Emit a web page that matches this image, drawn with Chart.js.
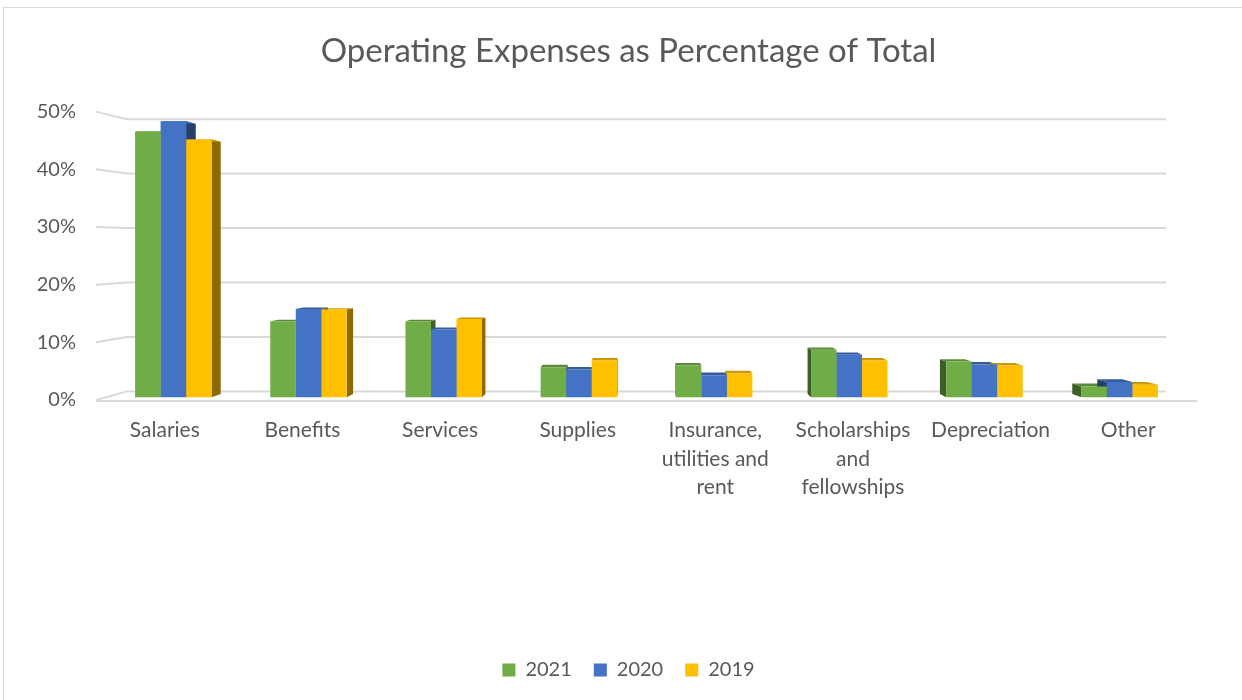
<!DOCTYPE html>
<html><head><meta charset="utf-8">
<script src="https://cdn.jsdelivr.net/npm/chart.js@4.4.0/dist/chart.umd.min.js"></script>
<style>
html,body{margin:0;padding:0;background:#fff;}
#wrap{position:relative;width:1242px;height:700px;overflow:hidden;background:#fff;}
#frame{position:absolute;left:3px;top:7px;width:1300px;height:800px;border-top:1px solid #d9d9d9;border-left:1px solid #d9d9d9;}
canvas{position:absolute;left:0;top:0;}
</style></head><body>
<div id="wrap"><div id="frame"></div><canvas id="c" width="1242" height="700"></canvas></div>
<script>
const chartTitle = 'Operating Expenses as Percentage of Total';
const categories = ['Salaries','Benefits','Services','Supplies',['Insurance,','utilities and','rent'],['Scholarships','and','fellowships'],'Depreciation','Other'];
const seriesNames = ['2021','2020','2019'];
const values2021 = [46.9, 13.4, 13.4, 5.3, 5.6, 8.4, 6.3, 1.9];
const values2020 = [48.7, 15.6, 12.0, 4.9, 3.9, 7.5, 5.8, 2.7];
const values2019 = [45.5, 15.5, 13.8, 6.5, 4.2, 6.5, 5.6, 2.2];
const yTicks = [0, 10, 20, 30, 40, 50];
const seriesColors = ['#70AD47', '#4472C4', '#FFC000'];

function shade(hex, f){
  const n = parseInt(hex.slice(1),16);
  const r = Math.round(((n>>16)&255)*f), g = Math.round(((n>>8)&255)*f), b = Math.round((n&255)*f);
  return 'rgb('+r+','+g+','+b+')';
}
function vanish(a){ return [(a.left + a.right) / 2, a.top + (a.bottom - a.top) * 0.467]; }

const depthPlugin = {
  id: 'depth',
  afterLayout(chart){
    [chart.titleBlock, chart.legend].forEach(b => { if (b) { b.left += 30; b.right += 30; } });
  },
  afterDatasetsUpdate(chart){
    const a = chart.chartArea, [vx, vy] = vanish(a), km = 0.0177;
    chart.data.datasets.forEach((ds, i) => {
      chart.getDatasetMeta(i).data.forEach(bar => {
        bar.x = bar.x + (vx - bar.x) * km;
        bar.y = bar.y + (vy - bar.y) * km;
        bar.base = bar.base + (vy - bar.base) * km;
        bar.width = bar.width * (1 - km);
      });
    });
  },
  beforeDatasetsDraw(chart){
    const ctx = chart.ctx, a = chart.chartArea, ys = chart.scales.y;
    const [vx, vy] = vanish(a);
    const kw = 0.056, kb = 0.021;
    const P = (x, y, k) => [x + (vx - x) * k, y + (vy - y) * k];
    ctx.save();
    ctx.strokeStyle = '#d9d9d9'; ctx.lineWidth = 2;
    yTicks.forEach(v => {
      const py = ys.getPixelForValue(v);
      const b1 = P(a.left, py, kw), b2 = P(a.right, py, kw);
      ctx.beginPath(); ctx.moveTo(a.left, py); ctx.lineTo(b1[0], b1[1]); ctx.lineTo(b2[0], b1[1]); ctx.stroke();
    });
    chart.data.datasets.forEach((ds, i) => {
      const meta = chart.getDatasetMeta(i);
      meta.data.forEach(bar => {
        const p = bar.getProps(['x','y','base','width'], true);
        const l = p.x - p.width / 2, r = p.x + p.width / 2;
        const sx = (p.x < vx) ? r : l;
        const t1 = P(sx, p.y, kb), t2 = P(sx, p.base, kb);
        ctx.fillStyle = shade(ds.backgroundColor, 0.55);
        ctx.beginPath(); ctx.moveTo(sx, p.y); ctx.lineTo(t1[0], t1[1]); ctx.lineTo(t2[0], t2[1]); ctx.lineTo(sx, p.base); ctx.closePath(); ctx.fill();
        const q1 = P(l, p.y, kb), q2 = P(r, p.y, kb);
        ctx.fillStyle = shade(ds.backgroundColor, 0.8);
        ctx.beginPath(); ctx.moveTo(l, p.y); ctx.lineTo(r, p.y); ctx.lineTo(q2[0], q2[1]); ctx.lineTo(q1[0], q1[1]); ctx.closePath(); ctx.fill();
      });
    });
    ctx.restore();
  },
  afterDatasetsDraw(chart){
    const ctx = chart.ctx, a = chart.chartArea, ys = chart.scales.y;
    const p0 = ys.getPixelForValue(0);
    ctx.save();
    ctx.strokeStyle = '#d9d9d9'; ctx.lineWidth = 2;
    ctx.beginPath(); ctx.moveTo(a.left, p0 + 1); ctx.lineTo(a.right, p0 + 1); ctx.stroke();
    ctx.restore();
  }
};

const datasets = [values2021, values2020, values2019].map((vals, i) => ({
  label: seriesNames[i],
  data: vals,
  backgroundColor: seriesColors[i],
  borderWidth: 0,
  categoryPercentage: 0.566,
  barPercentage: 1.0
}));

new Chart(document.getElementById('c'), {
  type: 'bar',
  data: { labels: categories, datasets: datasets },
  plugins: [depthPlugin],
  options: {
    responsive: false,
    animation: false,
    devicePixelRatio: 1,
    layout: { padding: { left: 0, right: 45, top: 0, bottom: 10 } },
    plugins: {
      title: {
        display: true, text: chartTitle, color: '#595959',
        font: { family: 'Lato', size: 33, weight: 'normal' },
        padding: { top: 32, bottom: 40 }
      },
      legend: {
        display: true, position: 'bottom',
        labels: { color: '#595959', font: { family: 'Lato', size: 20 }, boxWidth: 13, boxHeight: 13, padding: 22 }
      },
      tooltip: { enabled: false }
    },
    scales: {
      x: {
        grid: { display: false, drawTicks: false },
        border: { display: false },
        ticks: { color: '#595959', font: { family: 'Lato', size: 21, lineHeight: 1.36 }, padding: 16, maxRotation: 0, autoSkip: false },
        afterFit: s => { s.height = 238; }
      },
      y: {
        min: 0, max: 50,
        afterBuildTicks: s => { s.ticks = yTicks.map(v => ({ value: v })); },
        grid: { display: false, drawTicks: false },
        border: { display: false },
        ticks: { color: '#595959', font: { family: 'Lato', size: 20 }, padding: 20, callback: v => v + '%' },
        afterFit: s => { s.width = 96; }
      }
    }
  }
});
</script>
</body></html>
